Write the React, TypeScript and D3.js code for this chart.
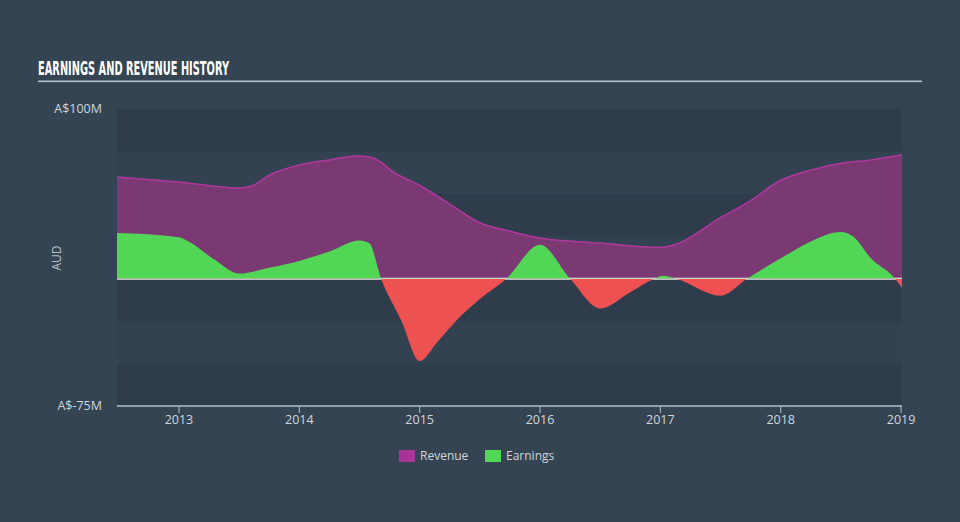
import React from 'react';
import * as d3 from 'd3';

const W = 960;
const H = 522;

const revenueDates = [2012.485, 2013.0, 2013.5, 2013.6, 2013.75, 2014.0, 2014.25, 2014.5, 2014.62, 2014.8, 2015.0, 2015.25, 2015.5, 2015.75, 2016.0, 2016.5, 2017.0, 2017.12, 2017.5, 2017.75, 2018.0, 2018.25, 2018.5, 2018.75, 2019.008];
const revenueValues = [60, 57, 53.5, 54.5, 61, 67, 70, 72.5, 71, 62, 55, 44, 33, 28, 24, 21, 18.5, 20, 36, 46, 58, 64, 68, 70, 73];

const earningsDates = [2012.485, 2013.0, 2013.08, 2013.3, 2013.5, 2013.75, 2014.0, 2014.25, 2014.5, 2014.58, 2014.68, 2014.85, 2015.0, 2015.15, 2015.3, 2015.5, 2015.72, 2016.0, 2016.25, 2016.5, 2016.75, 2016.95, 2017.02, 2017.13, 2017.5, 2017.72, 2018.0, 2018.25, 2018.5, 2018.6, 2018.75, 2018.95, 2019.008];
const earningsValues = [27, 24.5, 22, 11, 3, 6.5, 10.5, 16, 22.5, 21, 0, -25, -48.5, -37, -25, -12, 0, 20, 0, -17.5, -8, 0, 1.7, 0, -10, 0, 12, 22, 27.5, 25, 12, 0, -5.5];

const yTickValues = [100, -75];
const yTickLabels = ['A$100M', 'A$-75M'];
const xTickYears = [2013, 2014, 2015, 2016, 2017, 2018, 2019];
const bandStops = [100, 75, 50, 25, 0, -25, -50, -75];

export default function App() {
  const x = d3.scaleLinear().domain([2012.485, 2019.008]).range([117, 902]);
  const y = d3.scaleLinear().domain([-75, 100]).range([406, 109]);

  const rev = revenueDates.map((d, i) => ({ d, v: revenueValues[i] }));
  const earn = earningsDates.map((d, i) => ({ d, v: earningsValues[i] }));

  const revArea = d3.area<{ d: number; v: number }>()
    .x((p) => x(p.d)).y0(y(0)).y1((p) => y(p.v)).curve(d3.curveMonotoneX);
  const revLine = d3.line<{ d: number; v: number }>()
    .x((p) => x(p.d)).y((p) => y(p.v)).curve(d3.curveMonotoneX);
  const earnArea = d3.area<{ d: number; v: number }>()
    .x((p) => x(p.d)).y0(y(0)).y1((p) => y(p.v)).curve(d3.curveMonotoneX);

  const x0 = x.range()[0];
  const x1 = x.range()[1];
  const zeroY = y(0);

  const bands = [] as { y0: number; y1: number; dark: boolean }[];
  for (let i = 0; i < bandStops.length - 1; i++) {
    bands.push({ y0: y(bandStops[i]), y1: y(bandStops[i + 1]), dark: i % 2 === 0 });
  }

  const tickFont = '"Open Sans", "DejaVu Sans", sans-serif';

  return (
    <svg width={W} height={H} style={{ position: 'fixed', left: 0, top: 0, display: 'block' }}>
      <defs>
        <clipPath id="clipPos">
          <rect x={x0} y={0} width={x1 - x0} height={zeroY} />
        </clipPath>
        <clipPath id="clipNeg">
          <rect x={x0} y={zeroY} width={x1 - x0} height={H - zeroY} />
        </clipPath>
      </defs>
      <rect x={0} y={0} width={W} height={H} fill="#354453" />

      <text x={38} y={75} fill="#ffffff" fontFamily='"Liberation Sans Narrow", "DejaVu Sans Condensed", sans-serif' fontWeight="bold" fontSize={19} textLength={191} lengthAdjust="spacingAndGlyphs">EARNINGS AND REVENUE HISTORY</text>
      <rect x={38} y={80.5} width={884} height={1.6} fill="#b9c2cb" />

      {bands.map((b, i) => (
        <rect key={i} x={x0} y={b.y0} width={x1 - x0} height={b.y1 - b.y0} fill={b.dark ? '#2e3c4b' : '#324251'} />
      ))}

      <path d={revArea(rev) || ''} fill="#7a3973" />
      <path d={revLine(rev) || ''} fill="none" stroke="#b2379e" strokeWidth={1.5} />

      <line x1={x0} x2={x1} y1={zeroY} y2={zeroY} stroke="#e6e9ec" strokeWidth={2} />

      <path d={earnArea(earn) || ''} fill="#52d655" clipPath="url(#clipPos)" />
      <path d={earnArea(earn) || ''} fill="#ee5151" clipPath="url(#clipNeg)" />

      {yTickValues.map((v, i) => (
        <text key={i} x={102} y={y(v)} dy="0.35em" textAnchor="end" fill="#d0d6dc" fontFamily={tickFont} fontSize={12.5}>{yTickLabels[i]}</text>
      ))}
      <text transform={`translate(61,258) rotate(-90)`} textAnchor="middle" fill="#b8c0c8" fontFamily={tickFont} fontSize={12}>AUD</text>

      <line x1={x0} x2={x1} y1={406} y2={406} stroke="#b3c1cf" strokeWidth={1.5} />
      {xTickYears.map((yr) => (
        <g key={yr}>
          <line x1={x(yr)} x2={x(yr)} y1={406} y2={413} stroke="#b3c1cf" strokeWidth={1} />
          <text x={x(yr)} y={420} dy="0.35em" textAnchor="middle" fill="#d0d6dc" fontFamily={tickFont} fontSize={12.5}>{yr}</text>
        </g>
      ))}

      <rect x={399} y={450} width={16} height={12} fill="#a8349a" />
      <text x={420} y={456} dy="0.35em" fill="#d0d6dc" fontFamily={tickFont} fontSize={12}>Revenue</text>
      <rect x={485} y={450} width={16} height={12} fill="#52d655" />
      <text x={506} y={456} dy="0.35em" fill="#d0d6dc" fontFamily={tickFont} fontSize={12}>Earnings</text>
    </svg>
  );
}
